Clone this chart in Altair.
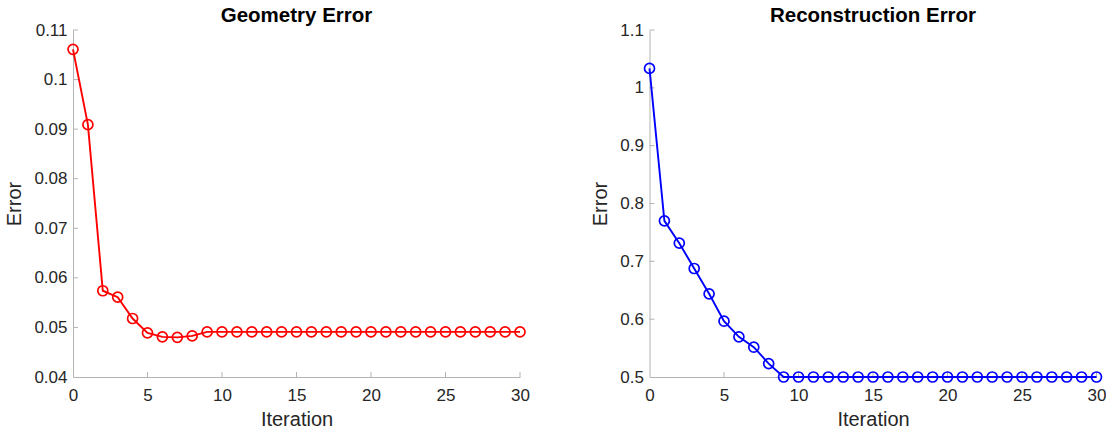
import altair as alt
import pandas as pd

# Iteration index shared by both error curves
iterations = list(range(31))

geometry_error = [
    0.1061, 0.0909, 0.0574, 0.0561, 0.0518, 0.0489, 0.0481, 0.0480, 0.0483,
    0.0491, 0.0491, 0.0491, 0.0491, 0.0491, 0.0491, 0.0491, 0.0491, 0.0491,
    0.0491, 0.0491, 0.0491, 0.0491, 0.0491, 0.0491, 0.0491, 0.0491, 0.0491,
    0.0491, 0.0491, 0.0491, 0.0491,
]

reconstruction_error = [
    1.0336, 0.7700, 0.7314, 0.6876, 0.6438, 0.5965, 0.5694, 0.5515, 0.5232,
    0.5000, 0.5000, 0.5000, 0.5000, 0.5000, 0.5000, 0.5000, 0.5000, 0.5000,
    0.5000, 0.5000, 0.5000, 0.5000, 0.5000, 0.5000, 0.5000, 0.5000, 0.5000,
    0.5000, 0.5000, 0.5000, 0.5000,
]

x_ticks = [0, 5, 10, 15, 20, 25, 30]
geometry_ticks = [0.04, 0.05, 0.06, 0.07, 0.08, 0.09, 0.10, 0.11]
reconstruction_ticks = [0.5, 0.6, 0.7, 0.8, 0.9, 1.0, 1.1]

W, H = 447, 347
AXIS_GRAY = "#b3b3b3"
TEXT = "#262626"
FONT = "Liberation Sans"


def panel(values, color, title, y_domain, y_ticks, y_format):
    df = pd.DataFrame({"Iteration": iterations, "Error": values})
    x = alt.X(
        "Iteration:Q",
        scale=alt.Scale(domain=[0, 30], nice=False),
        axis=alt.Axis(values=x_ticks, title="Iteration", format="d"),
    )
    y = alt.Y(
        "Error:Q",
        scale=alt.Scale(domain=y_domain, nice=False, zero=False),
        axis=alt.Axis(values=y_ticks, title="Error", format=y_format),
    )
    line = alt.Chart(df).mark_line(color=color, strokeWidth=1.9).encode(x=x, y=y)
    points = alt.Chart(df).mark_point(
        shape="circle", filled=False, color=color, size=100,
        strokeWidth=1.7, opacity=1,
    ).encode(x=x, y=y)

    # inward-pointing tick marks along the bottom and left axes
    xt = alt.Chart(pd.DataFrame({"Iteration": x_ticks[1:]})).mark_rule(
        color=AXIS_GRAY, strokeWidth=1
    ).encode(x=x, y=alt.value(H), y2=alt.value(H - 5))
    yt = alt.Chart(pd.DataFrame({"Error": y_ticks[1:]})).mark_rule(
        color=AXIS_GRAY, strokeWidth=1
    ).encode(y=y, x=alt.value(0), x2=alt.value(5))

    return alt.layer(xt, yt, line, points).properties(
        width=W, height=H, title=title
    )


left = panel(geometry_error, "#ff0000", "Geometry Error",
             [0.04, 0.11], geometry_ticks, ".2~f")
right = panel(reconstruction_error, "#0000ff", "Reconstruction Error",
              [0.5, 1.1], reconstruction_ticks, ".1~f")

chart = (
    alt.hconcat(left, right, spacing=60.5)
    .properties(padding={"left": 4, "top": 6, "right": 0, "bottom": 0})
    .configure_view(stroke=None)
    .configure_axis(
        domainColor=AXIS_GRAY,
        domainWidth=1,
        ticks=False,
        grid=False,
        labelFlush=False,
        labelFont=FONT,
        labelFontSize=17,
        labelColor=TEXT,
        titleFont=FONT,
        titleFontSize=20,
        titleFontWeight="normal",
        titleColor=TEXT,
    )
    .configure_axisX(labelPadding=10, titlePadding=6)
    .configure_axisY(labelPadding=6, titlePadding=9)
    .configure_title(
        font=FONT, fontSize=20.5, fontWeight="bold", color="#000000",
        offset=-5.5, anchor="middle",
    )
)

chart.save("out.html", embed_options={"renderer": "svg", "actions": False})
